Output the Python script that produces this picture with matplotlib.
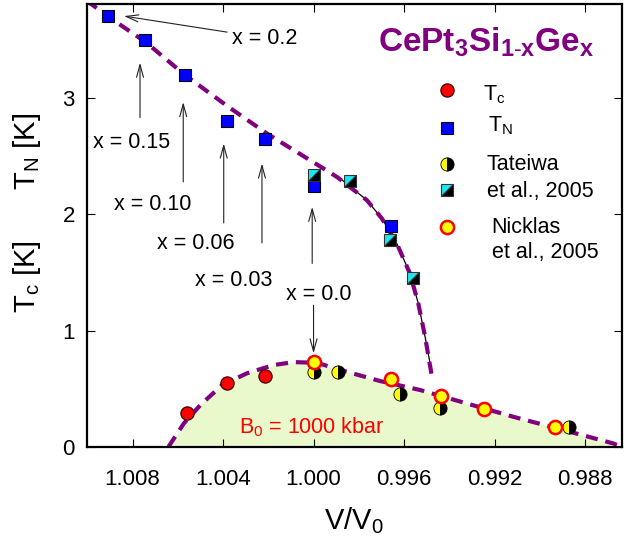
#!/usr/bin/env python3
"""T_N and T_c versus V/V0 for CePt3Si1-xGex (with Tateiwa / Nicklas data)."""
import matplotlib
matplotlib.use("Agg")
import matplotlib.pyplot as plt
from matplotlib.markers import MarkerStyle
from matplotlib.transforms import Affine2D

# --- data (V/V0, K) ---
TN_V = [1.00907, 1.00745, 1.00566, 1.00382, 1.00213, 1.0000, 0.99659]
TN_T = [3.703, 3.497, 3.195, 2.80, 2.652, 2.24, 1.898]

TC_V = [1.00561, 1.00382, 1.00213]
TC_T = [0.287, 0.545, 0.610]

TATEIWA_TN_V = [1.0000, 0.99841, 0.99662, 0.99559]
TATEIWA_TN_T = [2.336, 2.287, 1.777, 1.448]

TATEIWA_TC_V = [1.0000, 0.9989, 0.9962, 0.99439, 0.98871]
TATEIWA_TC_T = [0.645, 0.645, 0.453, 0.330, 0.172]

NICKLAS_V = [1.0000, 0.99657, 0.99435, 0.99245, 0.98932]
NICKLAS_T = [0.731, 0.582, 0.4385, 0.324, 0.172]

# guide lines
TN_LINE_V = [1.01000, 1.00985, 1.00904, 1.00742, 1.00566, 1.00375, 1.00206, 0.99956,
             0.99897, 0.99764, 0.99698, 0.99632, 0.99574, 0.99537, 0.99507, 0.99478]
TN_LINE_T = [3.84, 3.813, 3.697, 3.482, 3.195, 2.923, 2.695, 2.394,
             2.322, 2.121, 1.964, 1.749, 1.491, 1.233, 0.946, 0.617]
FIT_V = [0.99882, 0.99764, 0.99698, 0.99632, 0.99574, 0.99537, 0.99507, 0.99485]
FIT_T = [2.308, 2.121, 1.964, 1.749, 1.491, 1.233, 0.946, 0.717]

TC_LINE_V = [1.00641, 1.00573, 1.00500, 1.00404, 1.00294, 1.00176, 1.00088, 0.99985,
             0.99853, 0.99706, 0.99529, 0.99324, 0.99118, 0.98897, 0.98677, 0.98640]
TC_LINE_T = [0.0, 0.201, 0.359, 0.531, 0.632, 0.703, 0.728, 0.722,
             0.645, 0.565, 0.488, 0.373, 0.258, 0.144, 0.029, 0.0]

XTICKS = [1.008, 1.004, 1.000, 0.996, 0.992, 0.988]
YTICKS = [0, 1, 2, 3]

PURPLE = "#800080"
CYAN = "#1ee6f0"

plt.rcParams["font.family"] = ["Liberation Sans", "DejaVu Sans"]
plt.rcParams["mathtext.fontset"] = "custom"
plt.rcParams["mathtext.rm"] = "Liberation Sans"
plt.rcParams["mathtext.it"] = "Liberation Sans"
plt.rcParams["mathtext.bf"] = "Liberation Sans:bold"

fig = plt.figure(figsize=(6.33, 5.44), dpi=100)
ax = fig.add_axes([87.3 / 633, 1 - 446.7 / 544, 534.4 / 633, 442.7 / 544])

# Tc dome + fill
ax.fill_between(TC_LINE_V, TC_LINE_T, 0, color="#eaf9cc", lw=0, zorder=0)
ax.plot(TC_LINE_V, TC_LINE_T, color=PURPLE, lw=3, dashes=(2.9, 1.9), zorder=2)

# TN line
ax.plot(FIT_V, FIT_T, color="black", lw=0.9, zorder=2)
ax.plot(TN_LINE_V, TN_LINE_T, color=PURPLE, lw=3, dashes=(2.9, 1.9), zorder=2)

sq_half = MarkerStyle("D", fillstyle="left", transform=Affine2D().rotate_deg(-45))

ax.plot(TN_V, TN_T, ls="none", marker="s", ms=9, mfc="#0000ff", mec="black", mew=0.8, zorder=4)
ax.plot(TATEIWA_TN_V, TATEIWA_TN_T, ls="none", marker=sq_half, ms=9, mfc=CYAN,
        mfcalt="black", mec="#333333", mew=0.8, zorder=5)
ax.plot(TC_V, TC_T, ls="none", marker="o", ms=9.5, mfc="red", mec="#400000", mew=0.9, zorder=4)
ax.plot(TATEIWA_TC_V, TATEIWA_TC_T, ls="none", marker="o", fillstyle="left", ms=9.5,
        mfc="#ffff00", mfcalt="black", mec="black", mew=0.6, zorder=4)
ax.plot(NICKLAS_V, NICKLAS_T, ls="none", marker="o", ms=9.5, mfc="#ffff00", mec="red",
        mew=1.8, zorder=5)

# composition annotations
arrow = dict(arrowstyle="->,head_length=0.9,head_width=0.25", color="#222222", lw=0.8,
             shrinkA=0, shrinkB=0)
ax.annotate("", xy=(1.00838, 3.706), xytext=(1.00382, 3.568), arrowprops=arrow)
ax.annotate("", xy=(1.00767, 3.305), xytext=(1.00767, 2.832), arrowprops=arrow)
ax.annotate("", xy=(1.00576, 2.966), xytext=(1.00576, 2.279), arrowprops=arrow)
ax.annotate("", xy=(1.00397, 2.609), xytext=(1.00397, 1.926), arrowprops=arrow)
ax.annotate("", xy=(1.00228, 2.437), xytext=(1.00228, 1.754), arrowprops=arrow)
ax.annotate("", xy=(1.00006, 2.064), xytext=(1.00006, 1.577), arrowprops=arrow)
ax.annotate("", xy=(1.00000, 0.803), xytext=(1.00000, 1.218), arrowprops=arrow)

fs = 15.5
ax.text(1.00359, 3.463, "x = 0.2", fontsize=fs, va="baseline")
ax.text(1.00977, 2.574, "x = 0.15", fontsize=fs, va="baseline")
ax.text(1.00883, 2.035, "x = 0.10", fontsize=fs, va="baseline")
ax.text(1.00692, 1.700, "x = 0.06", fontsize=fs, va="baseline")
ax.text(1.00525, 1.384, "x = 0.03", fontsize=fs, va="baseline")
ax.text(1.00120, 1.261, "x = 0.0", fontsize=fs, va="baseline")
ax.text(1.00331, 0.115, r"B$_0$ = 1000 kbar", fontsize=fs, color="red", va="baseline")

# title and hand-made legend
ax.text(0.544, 0.8915, r"$\mathbf{CePt_3Si_{1\text{-}x}Ge_x}$", transform=ax.transAxes,
        fontsize=24, color=PURPLE, va="baseline")
tr = ax.transAxes
ax.plot([0.6725], [0.8057], transform=tr, marker="o", ms=9.5, mfc="red", mec="#400000",
        mew=0.9, clip_on=False)
ax.plot([0.6725], [0.7192], transform=tr, marker="s", ms=9, mfc="#0000ff", mec="black",
        mew=0.8, clip_on=False)
ax.plot([0.6725], [0.6386], transform=tr, marker="o", fillstyle="left", ms=9.5,
        mfc="#ffff00", mfcalt="black", mec="black", mew=0.6, clip_on=False)
ax.plot([0.6725], [0.5799], transform=tr, marker=sq_half, ms=9, mfc=CYAN, mfcalt="black",
        mec="#333333", mew=0.8, clip_on=False)
ax.plot([0.6725], [0.4970], transform=tr, marker="o", ms=9.5, mfc="#ffff00", mec="red",
        mew=1.8, clip_on=False)
ax.text(0.741, 0.783, r"T$_\mathrm{c}$", transform=tr, fontsize=fs, va="baseline")
ax.text(0.7504, 0.7115, r"T$_\mathrm{N}$", transform=tr, fontsize=fs, va="baseline")
ax.text(0.7474, 0.625, "Tateiwa", transform=tr, fontsize=fs, va="baseline")
ax.text(0.7474, 0.5647, "et al., 2005", transform=tr, fontsize=fs, va="baseline")
ax.text(0.7567, 0.482, "Nicklas", transform=tr, fontsize=fs, va="baseline")
ax.text(0.7567, 0.4256, "et al., 2005", transform=tr, fontsize=fs, va="baseline")

# axes
ax.set_xlim(1.0100, 0.98638)
ax.set_ylim(0, 3.81)
ax.set_xticks(XTICKS)
ax.set_xticklabels([f"{v:.3f}" for v in XTICKS])
ax.set_yticks(YTICKS)
ax.tick_params(direction="in", length=6, width=0.8, top=True, right=True, labelsize=16)
ax.tick_params(axis="x", pad=16)
ax.tick_params(axis="y", pad=9)
for s in ax.spines.values():
    s.set_linewidth(1.6)

fig.text(354 / 633, 1 - 521 / 544, r"V/V$_0$", fontsize=21, ha="center", va="center")
fig.text(27 / 633, 1 - 151 / 544, r"T$_\mathrm{N}$ [K]", fontsize=21, rotation=90,
         ha="center", va="center")
fig.text(27 / 633, 1 - 277 / 544, r"T$_\mathrm{c}$ [K]", fontsize=21, rotation=90,
         ha="center", va="center")

fig.savefig("out.png", dpi=100)
print("wrote out.png")
